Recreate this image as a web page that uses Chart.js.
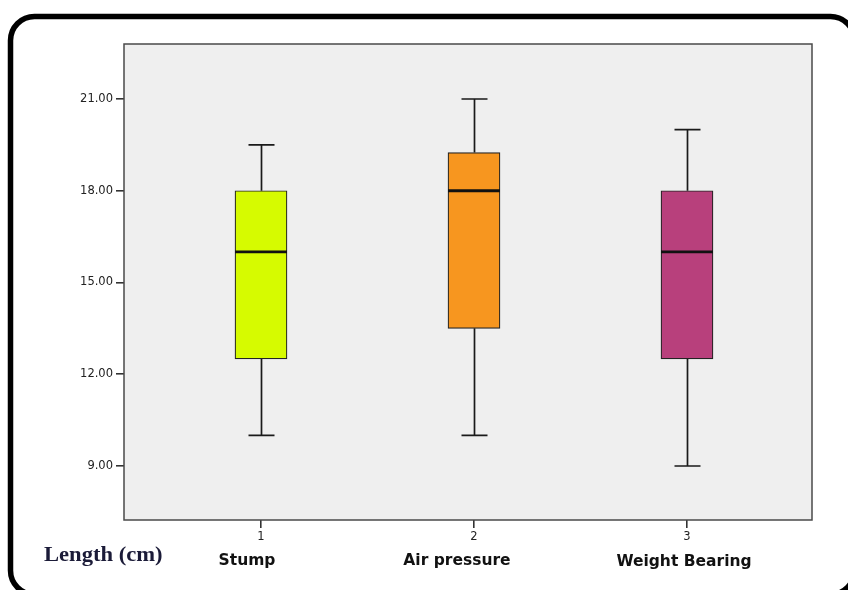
<!DOCTYPE html>
<html>
<head>
<meta charset="utf-8">
<script src="https://cdn.jsdelivr.net/npm/chart.js@4.4.1/dist/chart.umd.min.js"></script>
<style>
  html, body { margin: 0; padding: 0; background: #ffffff; }
  #wrap { width: 848px; height: 590px; position: relative; }
</style>
</head>
<body>
<div id="wrap"><canvas id="c" width="848" height="590"></canvas></div>
<script>
// ---- data ----
const categories = ['Stump', 'Air pressure', 'Weight Bearing'];
const positions = [1, 2, 3];
const minVals = [10, 10, 9];
const q1Vals = [12.5, 13.5, 12.5];
const medianVals = [16, 18, 16];
const q3Vals = [18, 19.25, 18];
const maxVals = [19.5, 21, 20];
const yTicks = [9, 12, 15, 18, 21];
const axisTitle = 'Length (cm)';

// ---- styles ----
const boxColors = ['#d6fb00', '#f7961f', '#b8407c'];
const nameOffsets = [-14, -17, -3];

const boxData = positions.map((p, i) => ({ x: p, y: [q1Vals[i], q3Vals[i]] }));

const boxPlugin = {
  id: 'boxExtras',
  beforeDraw(chart) {
    const ctx = chart.ctx;
    const a = chart.chartArea;
    ctx.save();
    ctx.fillStyle = '#ffffff';
    ctx.fillRect(0, 0, chart.width, chart.height);
    // outer rounded frame
    ctx.strokeStyle = '#000000';
    ctx.lineWidth = 5.5;
    ctx.beginPath();
    ctx.roundRect(10.5, 16.5, 844, 578, 24);
    ctx.stroke();
    // plot background
    ctx.fillStyle = '#efefef';
    ctx.fillRect(a.left, a.top, a.right - a.left, a.bottom - a.top);
    ctx.restore();
  },
  beforeDatasetsDraw(chart) {
    const ctx = chart.ctx;
    const xs = chart.scales.x, ys = chart.scales.y;
    ctx.save();
    ctx.strokeStyle = '#1a1a1a';
    ctx.lineWidth = 1.7;
    const cap = 13;
    positions.forEach((p, i) => {
      const x = Math.round(xs.getPixelForValue(p)) + 0.5;
      const yMin = ys.getPixelForValue(minVals[i]);
      const yMax = ys.getPixelForValue(maxVals[i]);
      const yQ1 = ys.getPixelForValue(q1Vals[i]);
      const yQ3 = ys.getPixelForValue(q3Vals[i]);
      ctx.beginPath();
      ctx.moveTo(x, yQ1); ctx.lineTo(x, yMin);
      ctx.moveTo(x, yQ3); ctx.lineTo(x, yMax);
      ctx.moveTo(x - cap, yMin); ctx.lineTo(x + cap, yMin);
      ctx.moveTo(x - cap, yMax); ctx.lineTo(x + cap, yMax);
      ctx.stroke();
    });
    ctx.restore();
  },
  afterDatasetsDraw(chart) {
    const ctx = chart.ctx;
    const a = chart.chartArea;
    const xs = chart.scales.x, ys = chart.scales.y;
    ctx.save();
    // medians
    ctx.strokeStyle = '#111';
    ctx.lineWidth = 2.8;
    positions.forEach((p, i) => {
      const x = xs.getPixelForValue(p);
      const y = ys.getPixelForValue(medianVals[i]);
      ctx.beginPath();
      ctx.moveTo(x - 26, y); ctx.lineTo(x + 26, y);
      ctx.stroke();
    });
    // plot border
    ctx.strokeStyle = '#4a4a4a';
    ctx.lineWidth = 1.5;
    ctx.strokeRect(a.left, a.top, a.right - a.left, a.bottom - a.top);
    // category names
    ctx.fillStyle = '#111';
    ctx.font = 'bold 15.5px "DejaVu Sans"';
    ctx.textAlign = 'center';
    ctx.textBaseline = 'alphabetic';
    categories.forEach((c, i) => {
      const x = xs.getPixelForValue(positions[i]) + nameOffsets[i];
      ctx.fillText(c, x, 565 + (i === 2 ? 1 : 0));
    });
    // axis title
    ctx.save();
    ctx.fillStyle = '#1b1b38';
    ctx.font = 'bold 20px "Liberation Serif"';
    ctx.textAlign = 'left';
    ctx.translate(44, 561);
    ctx.scale(1.13, 1);
    ctx.fillText(axisTitle, 0, 0);
    ctx.restore();
    ctx.restore();
  }
};

new Chart(document.getElementById('c'), {
  type: 'bar',
  data: {
    datasets: [{
      data: boxData,
      backgroundColor: boxColors,
      borderColor: '#222',
      borderWidth: 1.2,
      borderSkipped: false,
      barThickness: 52
    }]
  },
  options: {
    responsive: false,
    animation: false,
    events: [],
    layout: { padding: { top: 44, right: 36, left: 0, bottom: 0 } },
    plugins: { legend: { display: false }, tooltip: { enabled: false } },
    scales: {
      x: {
        type: 'linear',
        offset: false,
        min: 0.3568,
        max: 3.5869,
        afterBuildTicks: s => { s.ticks = positions.map(v => ({ value: v })); },
        afterFit: s => { s.height = 70; },
        ticks: {
          callback: v => String(v),
          color: '#222',
          font: { family: 'DejaVu Sans', size: 11.5 },
          padding: 2,
          maxRotation: 0
        },
        grid: { offset: false, drawOnChartArea: false, drawTicks: true, tickLength: 8, color: '#333', lineWidth: 1.6 },
        border: { display: false }
      },
      y: {
        type: 'linear',
        min: 7.234,
        max: 22.798,
        afterBuildTicks: s => { s.ticks = yTicks.map(v => ({ value: v })); },
        afterFit: s => { s.width = 124; },
        ticks: {
          callback: v => Number(v).toFixed(2),
          color: '#222',
          font: { family: 'DejaVu Sans', size: 11.5 },
          padding: 3
        },
        grid: { drawOnChartArea: false, drawTicks: true, tickLength: 8, color: '#333', lineWidth: 1.6 },
        border: { display: false }
      }
    }
  },
  plugins: [boxPlugin]
});
</script>
</body>
</html>
